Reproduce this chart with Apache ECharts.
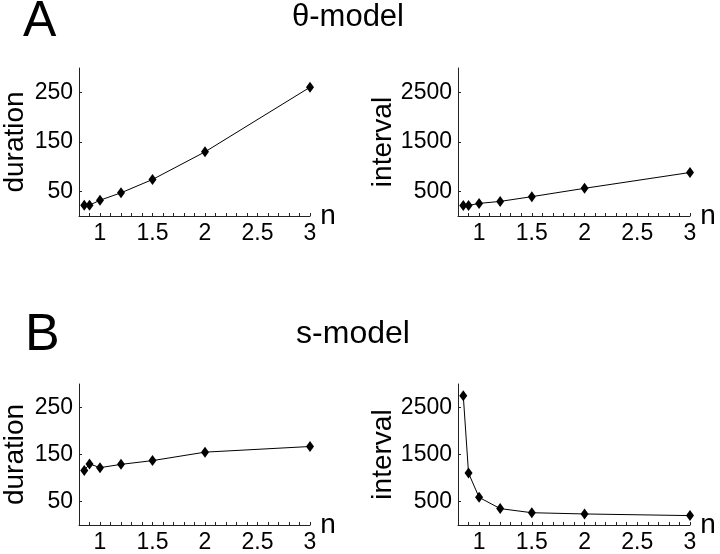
<!DOCTYPE html>
<html>
<head>
<meta charset="utf-8">
<script src="https://cdn.jsdelivr.net/npm/echarts@6/dist/echarts.min.js"></script>
<style>html,body{margin:0;padding:0;background:#fff;}#c{width:720px;height:554px;}</style>
</head>
<body>
<div id="c"></div>
<script>
var n = [0.85, 0.9, 1, 1.2, 1.5, 2, 3];
var thetaDuration = [22, 22, 32, 47, 74, 130, 261];
var thetaInterval = [214, 214, 255, 296, 392, 561, 882];
var sDuration = [116, 130, 122, 129, 137, 155, 167];
var sInterval = [2750, 1104, 588, 349, 261, 235, 200];
var xTickLabels = [1, 1.5, 2, 2.5, 3];
var durTicks = [50, 150, 250];
var intTicks = [500, 1500, 2500];

var FONT = 'Liberation Sans';
function pairs(ys) { return n.map(function (x, i) { return [x, ys[i]]; }); }
function plain(v) { return String(v); }

var grids = [
  { left: 78, top: 68, width: 232, height: 148 },
  { left: 458, top: 68, width: 232, height: 148 },
  { left: 78, top: 384, width: 232, height: 146 },
  { left: 458, top: 384, width: 232, height: 146 }
];

function xAxis(i) {
  return {
    gridIndex: i, type: 'value', min: 0.8, max: 3, interval: 0.1,
    name: 'n', nameLocation: 'end', nameGap: 10,
    nameTextStyle: { fontFamily: FONT, fontSize: 28, color: '#000', padding: [0, 0, 8, 0] },
    axisLine: { show: true, lineStyle: { color: '#222', width: 1 } },
    axisTick: { show: true, inside: true, length: 3, lineStyle: { color: '#222' } },
    axisLabel: { customValues: xTickLabels, formatter: plain, fontFamily: FONT, fontSize: 23, color: '#000', margin: 6 },
    splitLine: { show: false }
  };
}
function yAxis(i, name, max, ticks) {
  return {
    gridIndex: i, type: 'value', min: 0, max: max,
    name: name, nameLocation: 'middle', nameGap: 50, nameRotate: 90,
    nameTextStyle: { fontFamily: FONT, fontSize: 28, color: '#000' },
    axisLine: { show: true, lineStyle: { color: '#222', width: 1 } },
    axisTick: { show: true, inside: true, length: 3, customValues: ticks, lineStyle: { color: '#222' } },
    axisLabel: { customValues: ticks, formatter: plain, fontFamily: FONT, fontSize: 23, color: '#000', margin: 6 },
    splitLine: { show: false }
  };
}
function series(i, ys) {
  return {
    type: 'line', xAxisIndex: i, yAxisIndex: i, data: pairs(ys),
    symbol: 'diamond', symbolSize: [8, 11], showSymbol: true,
    lineStyle: { color: '#000', width: 1 }, itemStyle: { color: '#000' },
    animation: false, silent: true
  };
}

var chart = echarts.init(document.getElementById('c'));
chart.setOption({
  animation: false,
  backgroundColor: '#fff',
  grid: grids,
  xAxis: [xAxis(0), xAxis(1), xAxis(2), xAxis(3)],
  yAxis: [
    yAxis(0, 'duration', 300, durTicks),
    yAxis(1, 'interval', 3000, intTicks),
    yAxis(2, 'duration', 300, durTicks),
    yAxis(3, 'interval', 3000, intTicks)
  ],
  series: [
    series(0, thetaDuration),
    series(1, thetaInterval),
    series(2, sDuration),
    series(3, sInterval)
  ],
  graphic: [
    { type: 'text', left: 23, top: -3, style: { text: 'A', font: '50px "Liberation Sans"', fill: '#000' } },
    { type: 'text', x: 348, y: 17, style: { text: 'θ-model', font: '31px "Liberation Sans"', fill: '#000', align: 'center', verticalAlign: 'middle' } },
    { type: 'text', left: 25, top: 310, style: { text: 'B', font: '52px "Liberation Sans"', fill: '#000' } },
    { type: 'text', x: 353, y: 334, style: { text: 's-model', font: '32px "Liberation Sans"', fill: '#000', align: 'center', verticalAlign: 'middle' } }
  ]
});
</script>
</body>
</html>
